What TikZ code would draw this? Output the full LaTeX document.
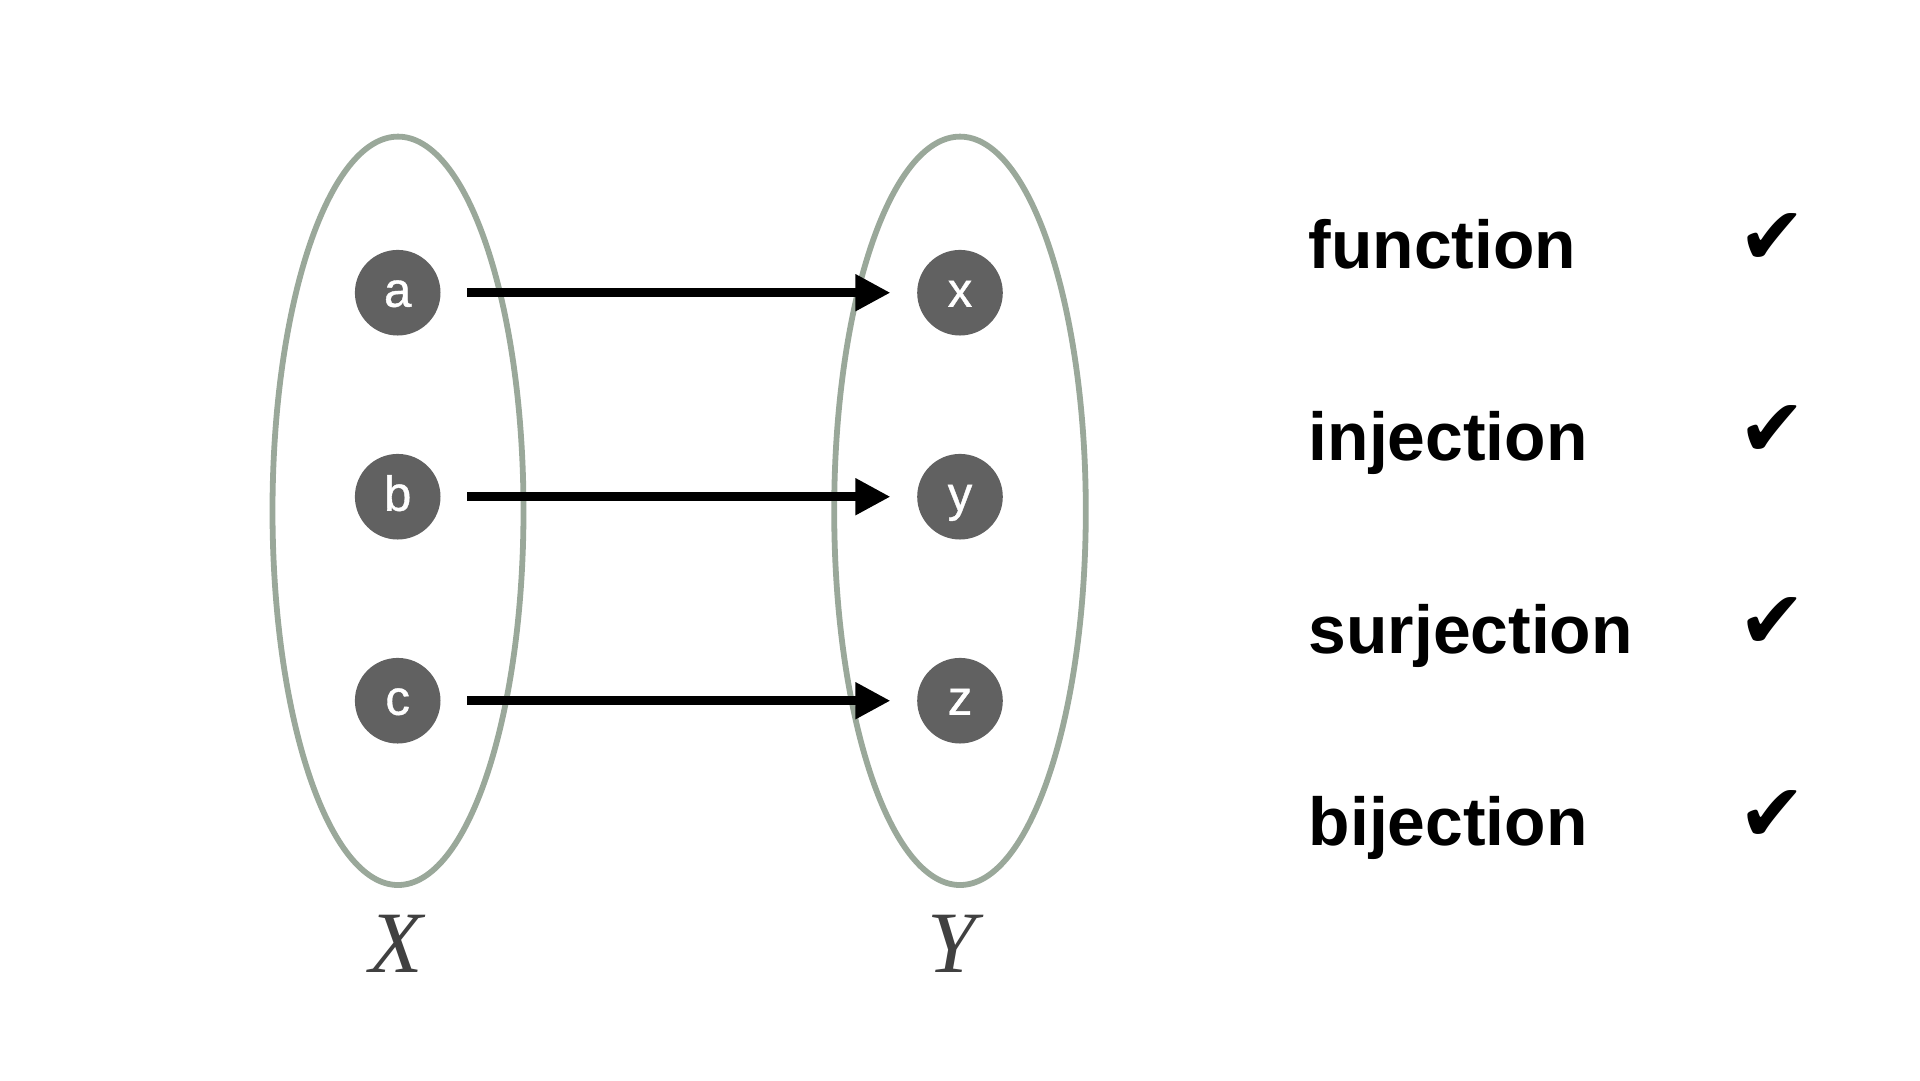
\documentclass[tikz,border=0pt]{standalone}
\usepackage{fontspec}
\setmainfont{Liberation Sans}
\newfontfamily\labelserif{Liberation Serif}
\newfontfamily\checkfont{DejaVu Sans}
\newfontfamily\elemfont{Liberation Sans}[FakeBold=0.8]
\usetikzlibrary{arrows.meta}
\definecolor{setgreen}{HTML}{9AA89A}
\definecolor{elemgray}{HTML}{616161}
\definecolor{labgray}{HTML}{404040}
\tikzset{
  setring/.style={draw=setgreen, line width=1.65pt},
  elem/.style={circle, fill=elemgray, text=white, inner sep=0pt, minimum size=8.56mm,
    font=\elemfont\fontsize{14pt}{16pt}\selectfont, text height=0.8em, text depth=0pt},
  maparrow/.style={line width=2.47pt, -{Triangle[length=9.96pt, width=9.85pt]},
    shorten <=7.4pt, shorten >=7.4pt},
  setlabel/.style={anchor=base, text=labgray, inner sep=0pt,
    font=\labelserif\itshape\fontsize{24.9pt}{28pt}\selectfont},
  proplabel/.style={anchor=base west, inner sep=0pt,
    font=\bfseries\fontsize{19.3pt}{22pt}\selectfont},
  checkmk/.style={anchor=base, inner sep=0pt,
    font=\checkfont\fontsize{23pt}{26pt}\selectfont}
}
\begin{document}
\begin{tikzpicture}[x=0.1mm, y=-0.1mm]
\useasboundingbox (0,0) rectangle (1920,1080);
% sets
\draw[setring] (398,510.8) ellipse [x radius=12.55mm, y radius=37.42mm];
\draw[setring] (960,510.8) ellipse [x radius=12.58mm, y radius=37.42mm];
% elements
\node[elem] (a) at (397.7,292.7) {a};
\node[elem] (b) at (397.7,496.7) {b};
\node[elem] (c) at (397.7,700.7) {c};
\node[elem] (x) at (960,292.7) {x};
\node[elem] (y) at (960,496.7) {y};
\node[elem] (z) at (960,700.7) {z};
% mapping
\draw[maparrow] (a) -- (x);
\draw[maparrow] (b) -- (y);
\draw[maparrow] (c) -- (z);
% set labels
\node[setlabel] (lx) at (396,972.7) {X};
\node[setlabel] (ly) at (952,972.7) {Y};
% properties
\node[proplabel] (p1) at (1308,268.3) {function};
\node[proplabel] (p2) at (1308,460.7) {injection};
\node[proplabel] (p3) at (1308,653) {surjection};
\node[proplabel] (p4) at (1308,845.4) {bijection};
\node[checkmk] (c1) at (1772,264) {✔};
\node[checkmk] (c2) at (1772,456.4) {✔};
\node[checkmk] (c3) at (1772,648.7) {✔};
\node[checkmk] (c4) at (1772,841.1) {✔};
\end{tikzpicture}
\end{document}
